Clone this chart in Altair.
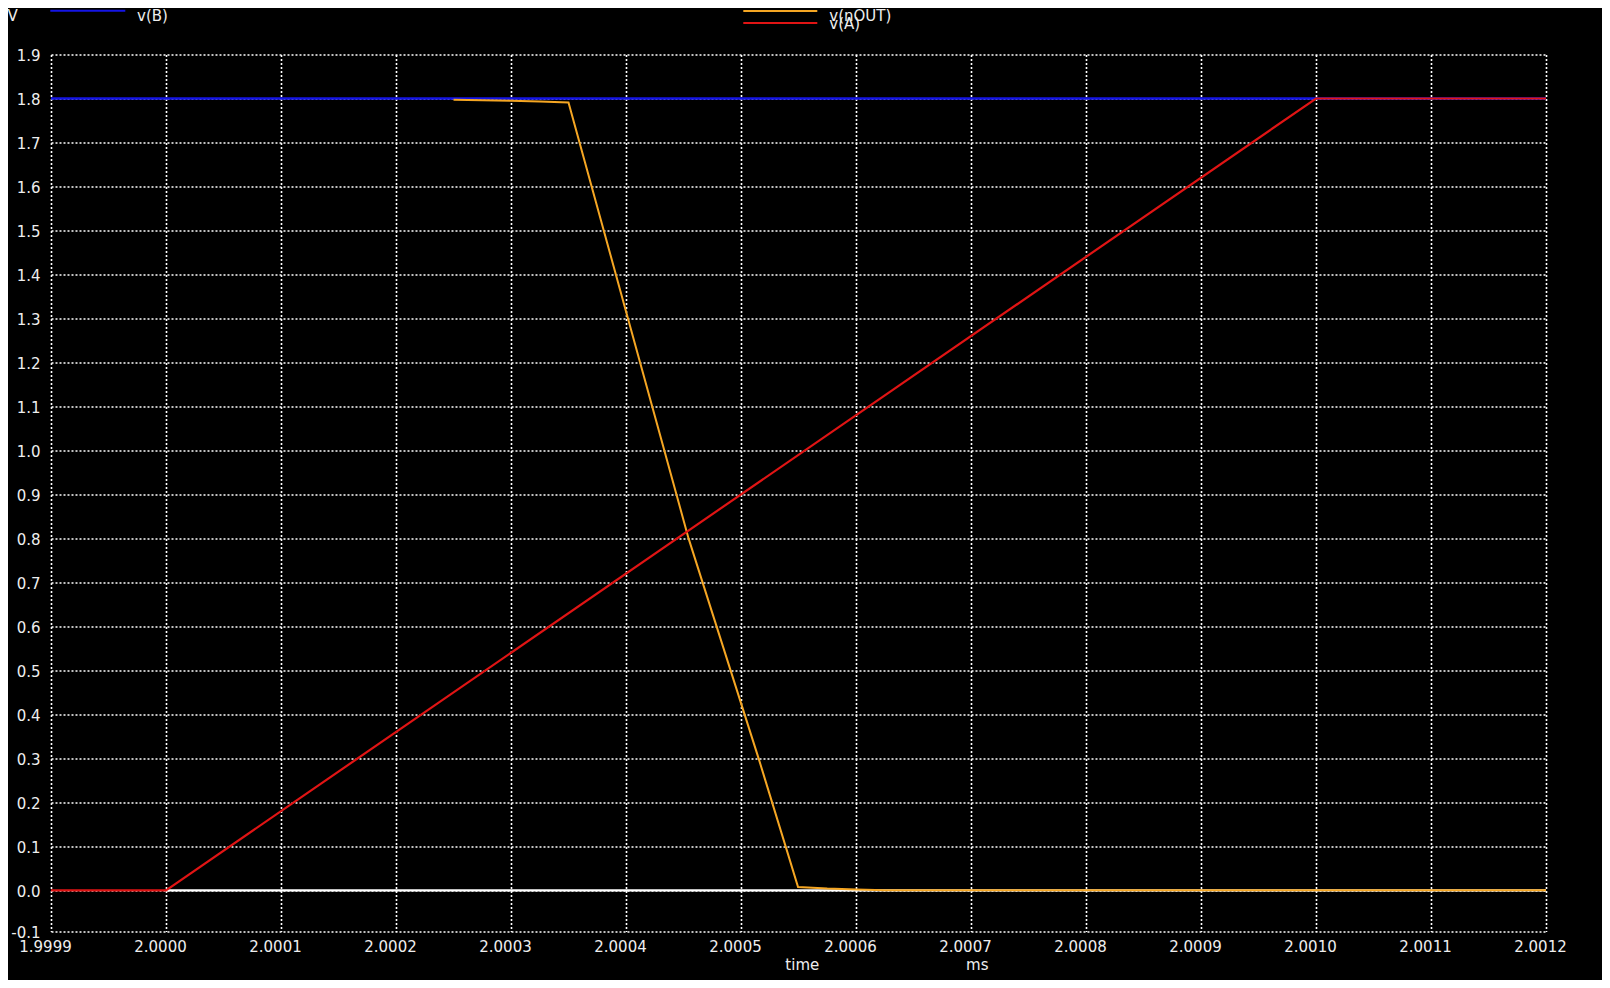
import altair as alt
import pandas as pd

# ---- data (time in ms, voltage in V) ----
t_B = [1.9999, 2.0012]
v_B = [1.8, 1.8]

t_zero = [2.0000, 2.0012]
v_zero = [0.0, 0.0]

t_OUT = [2.00025, 2.000275, 2.0003, 2.000325, 2.00035, 2.0004017, 2.0004544,
         2.0005153, 2.0005388, 2.0005496, 2.000575, 2.0006, 2.000625,
         2.00065, 2.0012]
v_OUT = [1.797, 1.796, 1.795, 1.793, 1.791, 1.3, 0.8,
         0.3, 0.1, 0.0077, 0.004, 0.002, 0.0005,
         0.0, 0.0]

t_A = [1.9999, 2.0000, 2.0010, 2.0012]
v_A = [0.0, 0.0, 1.8, 1.8]

x_ticks = [1.9999, 2.0000, 2.0001, 2.0002, 2.0003, 2.0004, 2.0005, 2.0006,
           2.0007, 2.0008, 2.0009, 2.0010, 2.0011, 2.0012]
y_ticks = [-0.0935, 0.0, 0.1, 0.2, 0.3, 0.4, 0.5, 0.6, 0.7, 0.8, 0.9, 1.0,
           1.1, 1.2, 1.3, 1.4, 1.5, 1.6, 1.7, 1.8, 1.9]
x_domain = [1.9999, 2.0012]
y_domain = [-0.0935, 1.9]

series_names = ["v(B)", "zero", "v(nOUT)", "v(A)"]
series_colors = ["#1414e6", "#ffffff", "#f5a623", "#e01414"]

FONT = "DejaVu Sans"
TXT = "#eeeeee"

def frame(t, v):
    return pd.DataFrame({"time": t, "volt": v})

x_enc = alt.X(
    "time:Q",
    scale=alt.Scale(domain=x_domain, nice=False, zero=False),
    axis=alt.Axis(values=x_ticks, format=".4f", grid=True, gridColor="#ffffff",
                  gridDash=[2, 2], gridWidth=1.6, domain=False, ticks=False,
                  tickSize=0, labelColor=TXT, labelFont=FONT, labelFontSize=15,
                  labelPadding=15, labelBaseline="middle", labelOffset=-6,
                  labelOverlap=False, labelBound=False, labelFlush=False,
                  title=None, zindex=0),
)
y_enc = alt.Y(
    "volt:Q",
    scale=alt.Scale(domain=y_domain, nice=False, zero=False),
    axis=alt.Axis(values=y_ticks,
                  labelExpr="datum.value < -0.05 ? '-0.1' : format(datum.value, '.1f')",
                  grid=True, gridColor="#ffffff", gridDash=[2, 2], gridWidth=1.6,
                  domain=False, ticks=False, tickSize=0, labelColor=TXT,
                  labelFont=FONT, labelFontSize=15, labelPadding=11,
                  labelAlign="right", labelBaseline="middle", labelOffset=1,
                  labelOverlap=False, labelBound=False, labelFlush=False,
                  title=None, zindex=0),
)

def trace(t, v, color, width=2):
    return alt.Chart(frame(t, v)).mark_line(
        color=color, strokeWidth=width, clip=True, interpolate="linear"
    ).encode(x=x_enc, y=y_enc)

lines = [
    trace(t_B, v_B, series_colors[0], 2.5),
    trace(t_zero, v_zero, series_colors[1], 2.2),
    trace(t_OUT, v_OUT, series_colors[2]),
    trace(t_A, v_A, series_colors[3], 2.2),
]

def label(text, x, y, align="left", size=15):
    return alt.Chart(pd.DataFrame({"label": [text]})).mark_text(
        align=align, baseline="middle", font=FONT, fontSize=size, color=TXT
    ).encode(text="label:N", x=alt.value(x), y=alt.value(y))

def key_line(color, x1, x2, y):
    return alt.Chart(pd.DataFrame({"k": [0]})).mark_rule(
        color=color, strokeWidth=2
    ).encode(x=alt.value(x1), x2=alt.value(x2), y=alt.value(y))

annotations = [
    label("V", -38.5, -38.5, align="center"),
    key_line(series_colors[0], -0.7, 74.3, -43.8),
    label("v(B)", 86, -38.5),
    key_line(series_colors[2], 692.3, 766.3, -43.5),
    label("v(nOUT)", 778.3, -38.5),
    key_line(series_colors[3], 692.3, 766.3, -31.5),
    label("v(A)", 778.3, -30.5),
    label("time", 751.3, 910.5, align="center"),
    label("ms", 926.3, 910.5, align="center"),
]

chart = alt.layer(*lines, *annotations).properties(
    width=1495,
    height=877,
    autosize=alt.AutoSizeParams(type="none"),
    padding={"left": 43, "top": 46.5, "right": 56, "bottom": 48.5},
).configure(
    background="#000000",
).configure_view(
    stroke=None,
    fill="#000000",
)

chart.save("out.html", embed_options={"renderer": "svg", "actions": False})
